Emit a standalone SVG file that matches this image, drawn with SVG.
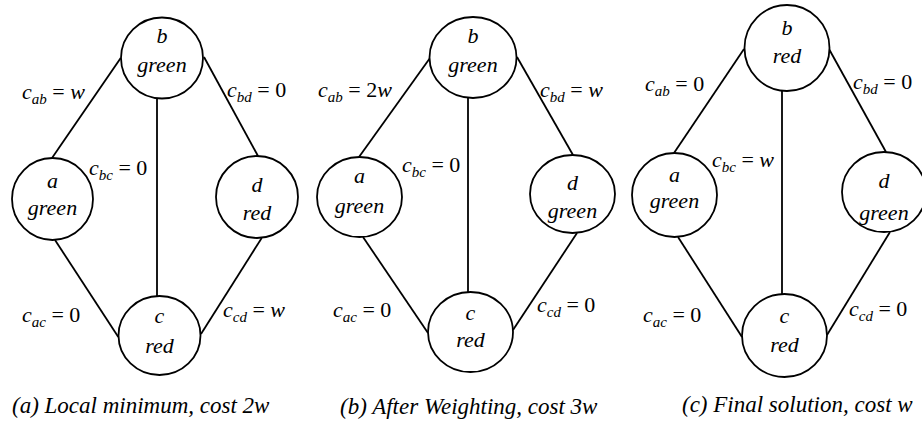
<svg xmlns="http://www.w3.org/2000/svg" width="922" height="424" viewBox="0 0 922 424">
<rect width="922" height="424" fill="#fff"/>
<g id="edges" stroke="#000" stroke-width="1.8">
<line x1="120.7" y1="58" x2="52" y2="158"/>
<line x1="204" y1="57" x2="258" y2="156"/>
<line x1="157" y1="98.5" x2="157" y2="296"/>
<line x1="55" y1="240" x2="118.3" y2="337"/>
<line x1="261.7" y1="238" x2="201" y2="334"/>
<line x1="430" y1="58" x2="359" y2="157"/>
<line x1="517" y1="57" x2="573" y2="155"/>
<line x1="468" y1="98" x2="468" y2="292"/>
<line x1="363" y1="237" x2="428" y2="333"/>
<line x1="577" y1="233" x2="513" y2="330"/>
<line x1="744" y1="49" x2="674" y2="153"/>
<line x1="829" y1="49" x2="886" y2="152"/>
<line x1="782" y1="91" x2="782" y2="294"/>
<line x1="678" y1="237" x2="742" y2="337"/>
<line x1="890" y1="232" x2="827" y2="335"/>
</g>
<g id="nodes" fill="#fff" stroke="#000" stroke-width="1.8">
<g id="a1"><ellipse cx="52.5" cy="199" rx="40.5" ry="41"/></g>
<g id="b1"><ellipse cx="162" cy="58" rx="41" ry="40.5"/></g>
<g id="c1"><ellipse cx="159.5" cy="335.5" rx="41" ry="39.5"/></g>
<g id="d1"><ellipse cx="257" cy="197" rx="41" ry="41"/></g>
<g id="a2"><ellipse cx="359.5" cy="197" rx="42.5" ry="40"/></g>
<g id="b2"><ellipse cx="473" cy="57.5" rx="43.5" ry="40.5"/></g>
<g id="c2"><ellipse cx="470.5" cy="332" rx="42.5" ry="40"/></g>
<g id="d2"><ellipse cx="572.5" cy="194" rx="42.5" ry="39"/></g>
<g id="a3"><ellipse cx="674.5" cy="195" rx="42.5" ry="42"/></g>
<g id="b3"><ellipse cx="787" cy="48" rx="42.5" ry="43"/></g>
<g id="c3"><ellipse cx="784.5" cy="335.5" rx="42.5" ry="41.5"/></g>
<g id="d3"><ellipse cx="884" cy="192" rx="42" ry="40"/></g>
</g>
<text x="52.5" y="188" font-family="Liberation Serif" font-style="italic" font-size="22" text-anchor="middle">a</text>
<text x="52.5" y="215" font-family="Liberation Serif" font-style="italic" font-size="22" text-anchor="middle">green</text>
<text x="162" y="43" font-family="Liberation Serif" font-style="italic" font-size="22" text-anchor="middle">b</text>
<text x="162" y="72" font-family="Liberation Serif" font-style="italic" font-size="22" text-anchor="middle">green</text>
<text x="159.5" y="323" font-family="Liberation Serif" font-style="italic" font-size="22" text-anchor="middle">c</text>
<text x="159.5" y="353" font-family="Liberation Serif" font-style="italic" font-size="22" text-anchor="middle">red</text>
<text x="257" y="192" font-family="Liberation Serif" font-style="italic" font-size="22" text-anchor="middle">d</text>
<text x="257" y="220" font-family="Liberation Serif" font-style="italic" font-size="22" text-anchor="middle">red</text>
<text x="359.5" y="183" font-family="Liberation Serif" font-style="italic" font-size="22" text-anchor="middle">a</text>
<text x="359.5" y="213" font-family="Liberation Serif" font-style="italic" font-size="22" text-anchor="middle">green</text>
<text x="473" y="43" font-family="Liberation Serif" font-style="italic" font-size="22" text-anchor="middle">b</text>
<text x="473" y="72" font-family="Liberation Serif" font-style="italic" font-size="22" text-anchor="middle">green</text>
<text x="470.5" y="320" font-family="Liberation Serif" font-style="italic" font-size="22" text-anchor="middle">c</text>
<text x="470.5" y="347" font-family="Liberation Serif" font-style="italic" font-size="22" text-anchor="middle">red</text>
<text x="572.5" y="190" font-family="Liberation Serif" font-style="italic" font-size="22" text-anchor="middle">d</text>
<text x="572.5" y="218" font-family="Liberation Serif" font-style="italic" font-size="22" text-anchor="middle">green</text>
<text x="674.5" y="182" font-family="Liberation Serif" font-style="italic" font-size="22" text-anchor="middle">a</text>
<text x="674.5" y="208" font-family="Liberation Serif" font-style="italic" font-size="22" text-anchor="middle">green</text>
<text x="787" y="35" font-family="Liberation Serif" font-style="italic" font-size="22" text-anchor="middle">b</text>
<text x="787" y="63" font-family="Liberation Serif" font-style="italic" font-size="22" text-anchor="middle">red</text>
<text x="784.5" y="323" font-family="Liberation Serif" font-style="italic" font-size="22" text-anchor="middle">c</text>
<text x="784.5" y="352" font-family="Liberation Serif" font-style="italic" font-size="22" text-anchor="middle">red</text>
<text x="884" y="188" font-family="Liberation Serif" font-style="italic" font-size="22" text-anchor="middle">d</text>
<text x="884" y="220" font-family="Liberation Serif" font-style="italic" font-size="22" text-anchor="middle">green</text>
<g id="labels">
<text x="22" y="99" font-family="Liberation Serif" font-size="22"><tspan font-style="italic">c</tspan><tspan font-style="italic" font-size="15" dy="5">ab</tspan><tspan dy="-5"> = </tspan><tspan font-style="italic">w</tspan></text>
<text x="227" y="97" font-family="Liberation Serif" font-size="22"><tspan font-style="italic">c</tspan><tspan font-style="italic" font-size="15" dy="5">bd</tspan><tspan dy="-5"> = 0</tspan></text>
<text x="89" y="175" font-family="Liberation Serif" font-size="22"><tspan font-style="italic">c</tspan><tspan font-style="italic" font-size="15" dy="5">bc</tspan><tspan dy="-5"> = 0</tspan></text>
<text x="22" y="322" font-family="Liberation Serif" font-size="22"><tspan font-style="italic">c</tspan><tspan font-style="italic" font-size="15" dy="5">ac</tspan><tspan dy="-5"> = 0</tspan></text>
<text x="223" y="317" font-family="Liberation Serif" font-size="22"><tspan font-style="italic">c</tspan><tspan font-style="italic" font-size="15" dy="5">cd</tspan><tspan dy="-5"> = </tspan><tspan font-style="italic">w</tspan></text>
<text x="318" y="97" font-family="Liberation Serif" font-size="22"><tspan font-style="italic">c</tspan><tspan font-style="italic" font-size="15" dy="5">ab</tspan><tspan dy="-5"> = 2</tspan><tspan font-style="italic">w</tspan></text>
<text x="540" y="97" font-family="Liberation Serif" font-size="22"><tspan font-style="italic">c</tspan><tspan font-style="italic" font-size="15" dy="5">bd</tspan><tspan dy="-5"> = </tspan><tspan font-style="italic">w</tspan></text>
<text x="402" y="172" font-family="Liberation Serif" font-size="22"><tspan font-style="italic">c</tspan><tspan font-style="italic" font-size="15" dy="5">bc</tspan><tspan dy="-5"> = 0</tspan></text>
<text x="333" y="317" font-family="Liberation Serif" font-size="22"><tspan font-style="italic">c</tspan><tspan font-style="italic" font-size="15" dy="5">ac</tspan><tspan dy="-5"> = 0</tspan></text>
<text x="537" y="312" font-family="Liberation Serif" font-size="22"><tspan font-style="italic">c</tspan><tspan font-style="italic" font-size="15" dy="5">cd</tspan><tspan dy="-5"> = 0</tspan></text>
<text x="645" y="91" font-family="Liberation Serif" font-size="22"><tspan font-style="italic">c</tspan><tspan font-style="italic" font-size="15" dy="5">ab</tspan><tspan dy="-5"> = 0</tspan></text>
<text x="853" y="89" font-family="Liberation Serif" font-size="22"><tspan font-style="italic">c</tspan><tspan font-style="italic" font-size="15" dy="5">bd</tspan><tspan dy="-5"> = 0</tspan></text>
<text x="712" y="167" font-family="Liberation Serif" font-size="22"><tspan font-style="italic">c</tspan><tspan font-style="italic" font-size="15" dy="5">bc</tspan><tspan dy="-5"> = </tspan><tspan font-style="italic">w</tspan></text>
<text x="643" y="322" font-family="Liberation Serif" font-size="22"><tspan font-style="italic">c</tspan><tspan font-style="italic" font-size="15" dy="5">ac</tspan><tspan dy="-5"> = 0</tspan></text>
<text x="849" y="316" font-family="Liberation Serif" font-size="22"><tspan font-style="italic">c</tspan><tspan font-style="italic" font-size="15" dy="5">cd</tspan><tspan dy="-5"> = 0</tspan></text>
</g>
<g id="captions">
<text x="12" y="413" font-family="Liberation Serif" font-style="italic" font-size="23">(a) Local minimum, cost 2w</text>
<text x="340" y="414" font-family="Liberation Serif" font-style="italic" font-size="23">(b) After Weighting, cost 3w</text>
<text x="682" y="412" font-family="Liberation Serif" font-style="italic" font-size="23">(c) Final solution, cost w</text>
</g>
</svg>
